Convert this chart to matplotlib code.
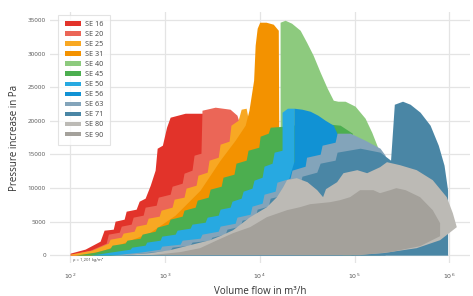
import numpy as np
import matplotlib.pyplot as plt

# Curvas envolventes de cada serie (caudal en m3/h, presion en Pa)
se16_x = [100, 144, 207, 228, 285, 298, 371, 390, 497, 535, 618, 700, 788, 828, 940, 1040, 1135, 1634, 2656, 2656]
se16_y = [300, 900, 2080, 3720, 3870, 5060, 5360, 6550, 6850, 8040, 8490, 10420, 12660, 15930, 16380, 19060, 20550, 21140, 21140, 0]

se20_x = [100, 163, 240, 253, 330, 346, 440, 462, 589, 618, 808, 850, 1135, 1190, 1520, 1590, 1930, 2030, 2400, 2460,
          3390, 4870, 5750, 6210, 6210]
se20_y = [150, 745, 1790, 3130, 3420, 4320, 4620, 5660, 5960, 7150, 7440, 8640, 9080, 10270, 10720, 12210, 12660, 14890,
          15190, 21590, 22040, 21740, 20850, 19360, 0]

se25_x = [100, 170, 253, 264, 346, 362, 473, 497, 634, 665, 870, 910, 1190, 1250, 1590, 1670, 2130, 2230, 2790, 2920,
          3650, 3820, 4750, 4970, 5920, 6370, 7190, 7530, 7530]
se25_y = [150, 745, 1790, 2380, 2680, 3280, 3570, 4320, 4620, 5510, 5810, 6700, 7150, 8340, 8640, 9980, 10420, 11910,
          12360, 14150, 14590, 16530, 16980, 19360, 20100, 21740, 21890, 20400, 0]

se31_x = [127, 207, 337, 698, 1282, 2350, 3820, 5506, 7020, 7700, 8620, 8950, 9400, 10000, 11670, 13900, 15700, 16100]
se31_y = [0, 600, 1640, 3420, 5960, 9680, 14150, 17120, 19360, 21590, 26060, 31270, 33800, 34700, 34700, 34400, 33500, 0]

se40_x = [337, 2350, 10100, 16400, 16400, 18530, 21700, 26700, 31200, 36600, 43400, 51500, 59700, 66800, 79560, 101400,
          129300, 152000, 177000, 186000, 186000]
se40_y = [0, 5960, 15630, 18610, 34700, 34990, 34550, 33500, 31720, 29780, 27250, 24870, 23080, 22930, 22930, 22190,
          20400, 18310, 15930, 15340, 0]

se45_x = [113, 184, 264, 277, 380, 398, 548, 575, 788, 828, 1080, 1135, 1520, 1590, 2084, 2190, 2860, 3000, 3920, 4100,
          5350, 5620, 7190, 7530, 9770, 10100, 12300, 12900, 18530, 26700, 43400, 70500, 94800, 97000, 97000]
se45_y = [0, 450, 1040, 1490, 1790, 2230, 2530, 3130, 3570, 4170, 4620, 5360, 5810, 6700, 7150, 8190, 8640, 9830, 10270,
          11610, 12060, 13700, 14150, 15630, 16080, 17720, 18170, 19060, 19210, 19510, 19660, 19360, 18170, 15630, 0]

se50_x = [163, 264, 430, 446, 618, 642, 890, 925, 1282, 1345, 1845, 1930, 2656, 2790, 3650, 3820, 4870, 5100, 6370, 6680,
          8290, 8700, 10600, 11100, 13500, 14200, 17200, 17200, 19600, 23000, 23000]
se50_y = [0, 450, 890, 1190, 1490, 1940, 2230, 2830, 3130, 3720, 4020, 4620, 4910, 5660, 5960, 6850, 7150, 8040, 8490,
          9530, 9980, 11170, 11610, 13250, 13700, 15340, 15630, 21290, 21890, 21890, 0]

se56_x = [2350, 7920, 17200, 23000, 23000, 27900, 34000, 41000, 48940, 59700, 66000, 72000, 74000, 74000]
se56_y = [0, 3720, 8190, 14000, 21890, 21740, 21440, 20850, 20100, 19360, 18000, 16000, 14000, 0]

se63_x = [264, 548, 890, 925, 1447, 1520, 2350, 2460, 3650, 3820, 5506, 5750, 7920, 8290, 10600, 11100, 14530, 15200,
          20900, 21900, 30120, 31200, 43400, 45500, 62400, 65500, 89900, 129300, 186000, 210200, 210200]
se63_y = [0, 450, 890, 1340, 1640, 2230, 2530, 3130, 3570, 4320, 4760, 5660, 6100, 7300, 7740, 9080, 9530, 10870, 11470,
          12660, 13250, 14590, 15040, 16380, 16830, 18170, 18170, 17120, 15930, 14890, 0]

se71_x = [337, 698, 1135, 1190, 1845, 1930, 3000, 3130, 4318, 4520, 6210, 6520, 8950, 9400, 12300, 12900, 17700, 18530,
          26700, 27900, 40000, 43400, 62400, 65500, 114600, 186000, 240000, 263000, 321000, 386000, 492000, 627000,
          765000, 880000, 960000, 960000]
se71_y = [0, 450, 745, 1190, 1490, 1940, 2230, 2680, 3130, 3870, 4320, 5210, 5660, 6850, 7300, 8490, 8930, 10120, 10570,
          11760, 12360, 13700, 14150, 15340, 15930, 15340, 14150, 22480, 22930, 22480, 21290, 19360, 16380, 13400, 9680, 0]

se80_x = [337, 698, 1135, 1845, 3000, 3820, 5240, 7920, 11900, 15200, 17700, 19400, 24600, 31900, 40400, 46600, 50000,
          65500, 76500, 107000, 136000, 186000, 220000, 303000, 453000, 669000, 940000, 1090000, 1200000]
se80_y = [0, 300, 745, 1490, 2230, 2830, 3720, 5660, 7150, 8640, 10120, 11170, 11470, 10870, 9680, 8640, 9830, 10870,
          12210, 12660, 12210, 13100, 13850, 13400, 12660, 11170, 8640, 6250, 4170]
se80_bx = [800000, 453000, 200000, 90000]
se80_by = [2230, 1040, 300, 0]

se90_x = [698, 1447, 2350, 3570, 5240, 7920, 11900, 19400, 26700, 34000, 55300, 70500, 89900, 114600, 158000, 186000,
          238000, 276000, 346000, 492000, 669000, 800000, 800000]
se90_y = [0, 450, 1040, 2230, 3280, 4170, 5660, 6700, 7150, 7590, 7890, 8190, 8640, 9680, 9680, 9230, 9680, 9980, 9680,
          8640, 6700, 4760, 2830]
se90_bx = [492000, 238000, 114600]
se90_by = [1340, 450, 0]

nombres = ['SE 16', 'SE 20', 'SE 25', 'SE 31', 'SE 40', 'SE 45', 'SE 50', 'SE 56', 'SE 63', 'SE 71', 'SE 80', 'SE 90']
colores = ['#e2332a', '#eb6657', '#f8a823', '#f39200', '#8dca7e', '#4cae4f', '#27a9e1', '#1192d4',
           '#83a4ba', '#4a86a5', '#bcbab5', '#a4a19b']

plt.rcParams['font.family'] = ['Open Sans', 'DejaVu Sans']

fig = plt.figure(figsize=(4.73, 2.96), dpi=100)
ax = fig.add_axes([0.106, 0.111, 0.888, 0.848])

series = [(se16_x, se16_y), (se20_x, se20_y), (se25_x, se25_y), (se31_x, se31_y), (se40_x, se40_y),
          (se45_x, se45_y), (se50_x, se50_y), (se56_x, se56_y), (se63_x, se63_y), (se71_x, se71_y)]

# Las series se dibujan de atras hacia delante
for (x, y), nombre, color in zip(series, nombres[:10], colores[:10]):
    ax.fill_between(x, 0, y, color=color, lw=0, label=nombre, zorder=2)

ax.fill(se80_x + se80_bx, se80_y + se80_by, color=colores[10], lw=0, label=nombres[10], zorder=2)
ax.fill(se90_x + se90_bx, se90_y + se90_by, color=colores[11], lw=0, label=nombres[11], zorder=2)

ax.set_xscale('log')
ax.set_xlim(61.5, 1.66e6)
ax.set_ylim(-1190, 36200)
ax.set_xticks([1e2, 1e3, 1e4, 1e5, 1e6])
ax.set_xticklabels(['$10^2$', '$10^3$', '$10^4$', '$10^5$', '$10^6$'])
ax.set_yticks(np.arange(0, 35001, 5000))
ax.minorticks_off()
ax.tick_params(length=0, labelsize=4.5, colors='#555555', pad=3)
ax.tick_params(axis='x', pad=6)

for s in ax.spines.values():
    s.set_visible(False)
ax.grid(True, color='#e4e4e4', lw=0.9, zorder=0)
ax.set_axisbelow(True)

ax.set_xlabel('Volume flow in m³/h', fontsize=7, color='#333333', labelpad=4)
ax.set_ylabel('Pressure increase in Pa', fontsize=7, color='#333333', labelpad=6)

ax.text(108, -700, 'ρ = 1,201 kg/m³', fontsize=3, color='#444444', va='center', ha='left', clip_on=False)

leg = ax.legend(loc='upper left', bbox_to_anchor=(0.019, 0.99), borderaxespad=0, fontsize=5.2,
                handlelength=2.3, handleheight=0.6, labelspacing=0.42, borderpad=0.9, handletextpad=0.5,
                frameon=True, fancybox=False, shadow=False, edgecolor='#dddddd')
leg.get_frame().set_linewidth(0.8)
for t in leg.get_texts():
    t.set_color('#444444')

fig.savefig('out.png', dpi=100)
